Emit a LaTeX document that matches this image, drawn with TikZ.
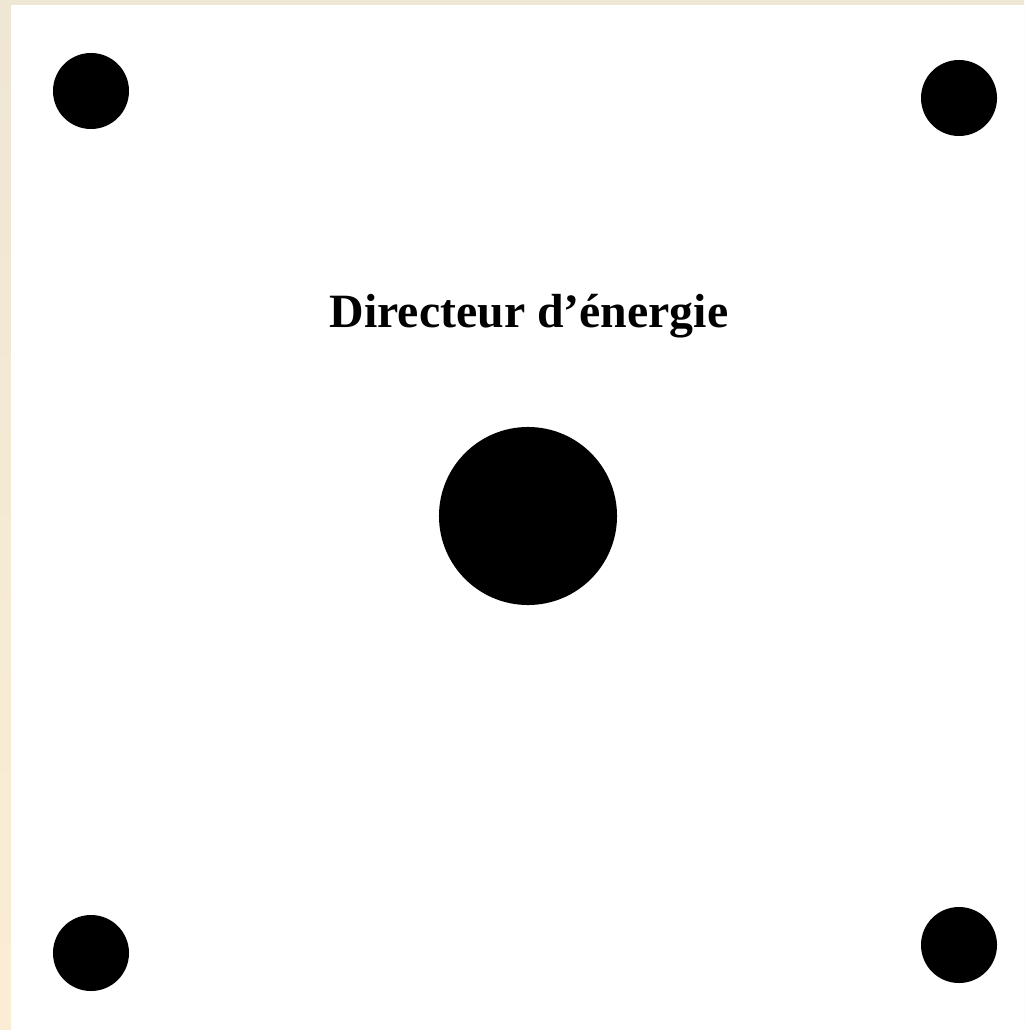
\documentclass[tikz,border=0pt]{standalone}
\usepackage{fontspec}
\setmainfont{Liberation Serif}
\usepackage{tikz}
\usetikzlibrary{positioning}

\definecolor{paper}{HTML}{EEE7D4}
\definecolor{paperlow}{HTML}{FBEDD4}

\begin{document}
\begin{tikzpicture}[
        x=0.025cm, y=-0.025cm,
        pole/.style={circle, fill=black, inner sep=0pt, minimum size=1.9cm},
        core/.style={circle, fill=black, inner sep=0pt, minimum size=4.45cm},
        label/.style={font=\fontsize{34}{40}\selectfont\bfseries}
    ]
    \useasboundingbox (0,0) rectangle (1024,1030);
    \shade[top color=paper, bottom color=paperlow] (0,0) rectangle (1024,1030);
    \fill[white] (11,5) rectangle (1024,1030);

    \node[pole] (nw) at (91,91) {};
    \node[pole] (ne) at (959,98) {};
    \node[pole] (sw) at (91,953) {};
    \node[pole] (se) at (959,945) {};

    \node[core] (center) at (528,516) {};
    \node[label] (title) at (529,316) {Directeur d’énergie};

    \end{tikzpicture}
\end{document}
